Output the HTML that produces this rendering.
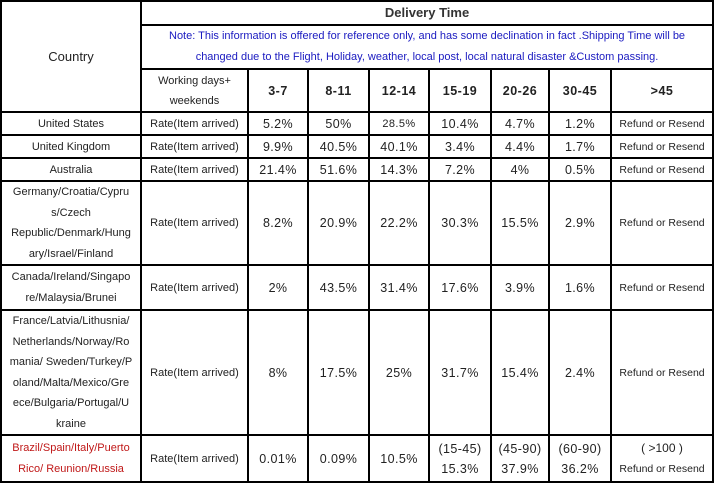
<!DOCTYPE html>
<html><head><style>
html,body{margin:0;padding:0;background:#fff;width:714px;height:487px;overflow:hidden}
table{position:absolute;left:0;top:0;border-collapse:collapse;table-layout:fixed;width:712px;font-family:"Liberation Sans",sans-serif;color:#222}
td{border:2px solid #000;text-align:center;vertical-align:middle;padding:0;font-size:11px;line-height:20px}
.n{font-size:12.5px;color:#222;letter-spacing:0.4px}
.h{font-size:12.5px;font-weight:bold;letter-spacing:0.5px}
.r{font-size:10.5px}
.note{color:#1a1ac0;font-size:11px;line-height:21px}
.c{font-size:11px;line-height:20.5px;padding:0 3px}
.red{color:#c01818}
</style></head><body>
<table>
<colgroup><col style="width:140px"><col style="width:107px"><col style="width:60px"><col style="width:61px"><col style="width:60px"><col style="width:62px"><col style="width:58px"><col style="width:62px"><col style="width:102px"></colgroup>
<tr style="height:24px"><td rowspan="3" style="font-size:13px">Country</td><td colspan="8" style="font-size:13px;font-weight:bold;color:#333">Delivery Time</td></tr>
<tr style="height:43px"><td colspan="8" class="note">Note: This information is offered for reference only, and has some declination in fact .Shipping Time will be<br>changed due to the Flight, Holiday, weather, local post, local natural disaster &amp;Custom passing.</td></tr>
<tr style="height:43px"><td>Working days+<br>weekends</td><td class="h">3-7</td><td class="h">8-11</td><td class="h">12-14</td><td class="h">15-19</td><td class="h">20-26</td><td class="h">30-45</td><td class="h">&gt;45</td></tr>
<tr style="height:23px"><td>United States</td><td>Rate(Item arrived)</td><td class="n">5.2%</td><td class="n">50%</td><td class="n" style="font-size:11px">28.5%</td><td class="n">10.4%</td><td class="n">4.7%</td><td class="n">1.2%</td><td class="r">Refund or Resend</td></tr>
<tr style="height:23px"><td>United Kingdom</td><td>Rate(Item arrived)</td><td class="n">9.9%</td><td class="n">40.5%</td><td class="n">40.1%</td><td class="n">3.4%</td><td class="n">4.4%</td><td class="n">1.7%</td><td class="r">Refund or Resend</td></tr>
<tr style="height:23px"><td>Australia</td><td>Rate(Item arrived)</td><td class="n">21.4%</td><td class="n">51.6%</td><td class="n">14.3%</td><td class="n">7.2%</td><td class="n">4%</td><td class="n">0.5%</td><td class="r">Refund or Resend</td></tr>
<tr style="height:82px"><td class="c">Germany/Croatia/Cypru<br>s/Czech<br>Republic/Denmark/Hung<br>ary/Israel/Finland</td><td>Rate(Item arrived)</td><td class="n">8.2%</td><td class="n">20.9%</td><td class="n">22.2%</td><td class="n">30.3%</td><td class="n">15.5%</td><td class="n">2.9%</td><td class="r">Refund or Resend</td></tr>
<tr style="height:45px"><td class="c">Canada/Ireland/Singapo<br>re/Malaysia/Brunei</td><td>Rate(Item arrived)</td><td class="n">2%</td><td class="n">43.5%</td><td class="n">31.4%</td><td class="n">17.6%</td><td class="n">3.9%</td><td class="n">1.6%</td><td class="r">Refund or Resend</td></tr>
<tr style="height:125px"><td class="c">France/Latvia/Lithusnia/<br>Netherlands/Norway/Ro<br>mania/ Sweden/Turkey/P<br>oland/Malta/Mexico/Gre<br>ece/Bulgaria/Portugal/U<br>kraine</td><td>Rate(Item arrived)</td><td class="n">8%</td><td class="n">17.5%</td><td class="n">25%</td><td class="n">31.7%</td><td class="n">15.4%</td><td class="n">2.4%</td><td class="r">Refund or Resend</td></tr>
<tr style="height:47px"><td class="c red">Brazil/Spain/Italy/Puerto<br>Rico/ Reunion/Russia</td><td>Rate(Item arrived)</td><td class="n">0.01%</td><td class="n">0.09%</td><td class="n">10.5%</td><td class="n">(15-45)<br>15.3%</td><td class="n">(45-90)<br>37.9%</td><td class="n">(60-90)<br>36.2%</td><td class="r"><span style="font-size:12px">( &gt;100 )</span><br>Refund or Resend</td></tr>
</table>
</body></html>
